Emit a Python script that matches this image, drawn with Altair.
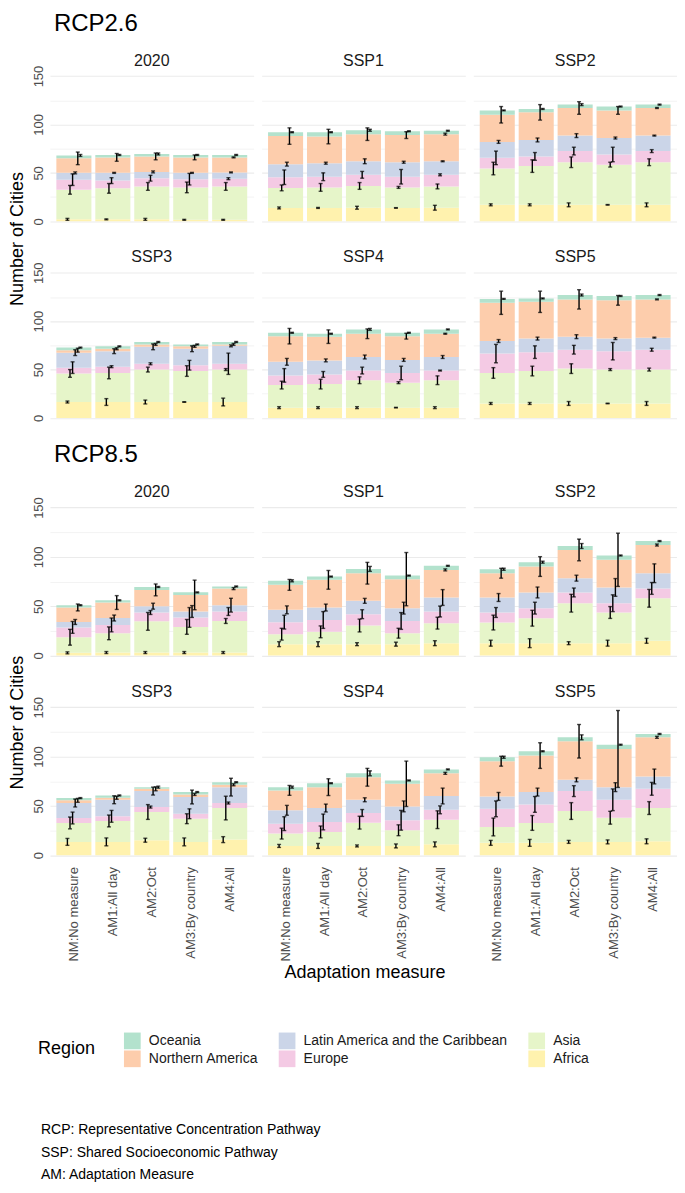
import altair as alt
import pandas as pd

FONT = "Liberation Sans"

REGIONS = ["Africa", "Asia", "Europe", "Latin America and the Caribbean",
           "Northern America", "Oceania"]
MEASURES = ["NM:No measure", "AM1:All day", "AM2:Oct", "AM3:By country", "AM4:All"]
PANELS = ["2020", "SSP1", "SSP2", "SSP3", "SSP4", "SSP5"]

LEG_ORDER = ["Oceania", "Northern America", "Latin America and the Caribbean",
             "Europe", "Asia", "Africa"]
LEG_COLORS = ["#B3E2CD", "#FDCDAC", "#CBD5E8", "#F4CAE4", "#E6F5C9", "#FFF2AE"]

# counts per measure (rows) and region (cols: Africa, Asia, Europe, LatAm, N. America, Oceania)
C26_2020 = [[2, 30.5, 10.5, 7, 15, 3], [2, 32, 8, 8, 16, 2.5], [2, 34, 8.5, 6.5, 16, 2.5],
            [1.5, 33.5, 8.5, 6.5, 16, 2.5], [1.5, 34.5, 8, 6.5, 15.5, 2.5]]
E26_2020 = [[1, 4.5, 6, 1, 6.5, 1], [0.5, 5, 3, 0.5, 4, 0.5], [1, 4, 3, 1, 3.5, 1],
            [0.5, 5.5, 6, 0.5, 2.5, 0.5], [0.5, 4, 1, 0.5, 0.5, 0.5]]
C26_SSP1 = [[13.8, 20.7, 11, 13.5, 29, 4], [13.8, 21.2, 11, 14, 27.5, 4.5], [14, 22.5, 11.5, 14, 28, 4],
            [13.8, 21.2, 11, 15, 28, 4], [14, 22, 12, 14, 28, 3.5]]
E26_SSP1 = [[1, 3, 7.5, 2, 8.5, 0.5], [0.5, 4, 4, 1, 7.5, 0.5], [1.5, 3.5, 3.5, 2.5, 6.5, 1],
            [0.3, 1, 7.5, 1, 3.5, 0.5], [2.5, 2.5, 1, 0.5, 1, 0.5]]
C26_SSP2 = [[17, 37.5, 11, 16.5, 28, 4.5], [17, 40, 10, 17, 28.5, 3.5], [17, 44, 11.5, 16, 28.5, 3.5],
            [17, 41.5, 10.5, 17, 28.5, 4], [17, 44, 11.5, 16, 28.5, 3.5]]
E26_SSP2 = [[1, 6.5, 7, 1.5, 8.5, 0.5], [1, 6.5, 4, 2, 8, 0.5], [2, 5.5, 4, 2, 6.5, 1],
            [0.3, 2.5, 7.5, 1, 4, 0.5], [2, 3.5, 1.5, 0.5, 0.5, 0.5]]
C26_SSP3 = [[16.5, 29.5, 6, 15.5, 2.5, 2.7], [16.5, 30, 6.5, 16, 2.5, 2.5], [16.5, 33.5, 6, 17.5, 2.5, 2.5],
            [16.5, 32, 6, 17, 2.5, 2], [16.5, 33.5, 6, 18.5, 1.5, 2.5]]
E26_SSP3 = [[1, 4, 6, 3, 2, 0.5], [3.5, 6, 1, 2.5, 1, 0.5], [2, 2.5, 1, 3, 1, 0.5],
            [0.3, 5.5, 5, 3, 1, 0.5], [4, 1, 11, 1, 1, 0.5]]
C26_SSP4 = [[10.7, 23.3, 10, 14, 26.5, 3.5], [10.7, 24.3, 10, 14.5, 24.5, 3], [10.7, 28.3, 10, 14, 24, 4.5],
            [10.7, 25.8, 10, 13.5, 24.5, 3.5], [10.7, 28.3, 10, 14, 24, 4.5]]
E26_SSP4 = [[1, 4, 7, 3.5, 8, 0.5], [1, 5, 3, 1.5, 7, 0.5], [1, 3.5, 3.5, 2, 5, 1],
            [0.3, 1, 7, 1.5, 3, 0.5], [1, 4.5, 0.5, 1.5, 0.5, 0.5]]
C26_SSP5 = [[15, 31.5, 20, 13, 39.5, 4], [15, 33.5, 19.5, 14, 38, 3.5], [15, 36, 19.5, 13.5, 38.5, 4.5],
            [15, 35, 19, 13, 39.5, 4.5], [15, 35, 20.5, 12.5, 39.5, 4.5]]
E26_SSP5 = [[1, 5.5, 9.5, 1.5, 12, 0.5], [1, 5, 6.5, 1.5, 11, 0.5], [2, 5, 4.5, 2, 10, 1],
            [0.3, 1, 9, 1, 5, 0.5], [2, 1.5, 1.5, 0.5, 0.5, 0.5]]

C85_2020 = [[2.7, 15.8, 10, 5.5, 14.7, 2.3], [3, 19.5, 8.5, 7, 15.7, 2.3], [3, 31.6, 9, 6.4, 16.5, 3],
            [3, 26, 9.6, 6, 16.8, 2.6], [3, 32, 9.6, 6.4, 16.8, 2.2]]
E85_2020 = [[1, 8, 6, 2.5, 3.5, 0.5], [1, 6.5, 7, 3, 7, 0.5], [1, 9, 2, 3, 6, 0.5],
            [1, 7.5, 10, 6, 15, 0.5], [1, 2.5, 4, 7, 1, 0.5]]
C85_SSP1 = [[11.5, 10.1, 12.2, 12.5, 25.3, 4.1], [11.5, 12.5, 12, 12.6, 28.1, 3.3],
            [11.5, 18.9, 11.5, 13.5, 28, 4.4], [11.5, 11.1, 12.4, 13, 29.4, 3.6],
            [12.5, 20.3, 11.8, 14.2, 28, 4.1]]
E85_SSP1 = [[2.5, 6, 7, 4, 5.5, 1], [2.5, 6, 8.5, 3.5, 9.5, 0.5], [1.5, 6.5, 4.5, 2.5, 11, 2.5],
            [2, 5, 8.5, 6, 27, 0.5], [2.5, 6, 5.5, 8, 1, 0.5]]
C85_SSP2 = [[12.5, 20.9, 10.2, 15.2, 24.6, 4.1], [12.5, 25.3, 10.2, 15.9, 26.3, 4.4],
            [12.5, 40.5, 10.9, 14.5, 28.6, 4], [12.5, 31.1, 9.4, 16, 28, 4.4],
            [14.9, 43.1, 10, 15.4, 28.6, 4]]
E85_SSP2 = [[3, 7.5, 5, 4, 5, 1], [4.5, 8, 6, 5.5, 10, 1], [1.5, 9, 4.5, 3, 11, 2.5],
            [3, 6, 8.5, 9, 27, 0.5], [2.5, 9, 6, 9.5, 1, 0.5]]
C85_SSP3 = [[13.5, 19.2, 5, 15.2, 2.7, 2.3], [13.5, 21.2, 4.7, 16.8, 2, 2.4],
            [15.2, 28.6, 5, 16.2, 2.3, 1.7], [13.5, 23.5, 5, 17, 2.6, 2.4],
            [15.8, 32, 5.1, 16.1, 2.4, 2.6]]
E85_SSP3 = [[3.5, 6, 6, 4, 2, 0.5], [4, 6, 6, 4, 1.5, 0.5], [2, 7.5, 1, 4, 2, 1],
            [4, 5, 5, 7, 1, 0.5], [3, 12, 1, 9, 1, 0.5]]
C85_SSP4 = [[9.4, 12.5, 10.1, 13.5, 20.2, 3.3], [9.4, 14.2, 10.1, 14.1, 21.2, 4],
            [9.4, 23.6, 9.8, 13.4, 22.8, 4], [9.4, 15.9, 10.1, 14.1, 22.9, 3.4],
            [11, 25, 10, 14, 23, 4]]
E85_SSP4 = [[1.5, 5.5, 7, 5, 5, 1], [2.5, 6, 8, 4, 8.5, 0.5], [1, 6.5, 3.5, 2, 9, 2.5],
            [2, 5.5, 10, 5.5, 23, 0.5], [2.5, 9, 4, 8, 1, 0.5]]
C85_SSP5 = [[12.5, 16.1, 18.4, 12.6, 35.7, 4], [12.5, 20.2, 18.8, 12.5, 37, 4.4],
            [13.5, 31.3, 20.2, 11.4, 39.1, 4], [13.5, 24.5, 18.2, 12.8, 38.7, 4.3],
            [14.1, 33.7, 19.5, 12.5, 39.7, 3.4]]
E85_SSP5 = [[2.5, 9, 8, 4, 5, 1], [3.5, 7.5, 8, 4, 13, 0.5], [1.5, 8.5, 5.5, 2, 17, 2.5],
            [2, 6.5, 11, 4.5, 39, 0.5], [2.5, 6.5, 6.5, 7.5, 1, 0.5]]

CAPTION = ["RCP: Representative Concentration Pathway",
           "SSP: Shared Socioeconomic Pathway",
           "AM: Adaptation Measure"]

RCP26 = {"2020": (C26_2020, E26_2020), "SSP1": (C26_SSP1, E26_SSP1), "SSP2": (C26_SSP2, E26_SSP2),
         "SSP3": (C26_SSP3, E26_SSP3), "SSP4": (C26_SSP4, E26_SSP4), "SSP5": (C26_SSP5, E26_SSP5)}
RCP85 = {"2020": (C85_2020, E85_2020), "SSP1": (C85_SSP1, E85_SSP1), "SSP2": (C85_SSP2, E85_SSP2),
         "SSP3": (C85_SSP3, E85_SSP3), "SSP4": (C85_SSP4, E85_SSP4), "SSP5": (C85_SSP5, E85_SSP5)}


def make_df(block):
    rows = []
    for p in PANELS:
        cnt, err = block[p]
        for mi, m in enumerate(MEASURES):
            cum = 0.0
            for ri, r in enumerate(REGIONS):
                c = cnt[mi][ri]
                cum += c
                e = err[mi][ri]
                rows.append(dict(panel=p, measure=m, region=r, order=ri, count=c,
                                 lo=cum - e, hi=cum + e))
    return pd.DataFrame(rows)


W = 204
DODGE = {"expr": "(datum.order - 2.5) * 2.6"}


def facet_block(df, show_x, H):
    if show_x:
        xaxis = alt.Axis(title=None, labelAngle=270, labelFontSize=13, labelColor="#4d4d4d",
                         ticks=False, domain=False, gridColor="#ebebeb", gridWidth=1.1,
                         labelPadding=4, bandPosition=0.5)
    else:
        xaxis = alt.Axis(title=None, labels=False, ticks=False, domain=False,
                         gridColor="#ebebeb", gridWidth=1.1, bandPosition=0.5)
    X = alt.X("measure:N", sort=MEASURES,
              scale=alt.Scale(paddingInner=0.1, paddingOuter=0.165), axis=xaxis)
    yaxis = alt.Axis(title=None, values=[0, 25, 50, 75, 100, 125, 150],
                     labelExpr="datum.value % 50 == 0 ? datum.label : ''",
                     ticks=False, domain=False, labelAngle=270, labelFontSize=13,
                     labelColor="#4d4d4d", labelPadding=4, gridColor="#ebebeb",
                     gridWidth={"condition": {"test": "datum.value % 50 == 0", "value": 1.1},
                                "value": 0.6})
    ysc = alt.Scale(domain=[-7.5, 157.5], nice=False, zero=False)

    base = alt.Chart(df)
    bars = base.mark_bar(strokeWidth=0).encode(
        x=X,
        y=alt.Y("count:Q", stack="zero", scale=ysc, axis=yaxis),
        color=alt.Color("region:N",
                        scale=alt.Scale(domain=LEG_ORDER, range=LEG_COLORS),
                        legend=alt.Legend(title="Region", orient="none", legendX=-12, legendY=965,
                                          columns=3, titleOrient="left", symbolType="square",
                                          symbolSize=280, symbolStrokeWidth=0, labelFontSize=14,
                                          titleFontSize=18, titleFontWeight="normal",
                                          titleColor="black", labelColor="#1a1a1a",
                                          columnPadding=20, rowPadding=1, titlePadding=28,
                                          labelOffset=8, labelLimit=0)),
        order=alt.Order("order:Q", sort="ascending"),
    )
    rules = base.mark_rule(color="black", strokeWidth=1.4, xOffset=DODGE).encode(
        x=X, y=alt.Y("lo:Q", scale=ysc, axis=yaxis), y2="hi:Q")
    cap_lo = base.mark_tick(color="black", size=4, thickness=1.4, xOffset=DODGE).encode(
        x=X, y=alt.Y("lo:Q", scale=ysc, axis=yaxis))
    cap_hi = base.mark_tick(color="black", size=4, thickness=1.4, xOffset=DODGE).encode(
        x=X, y=alt.Y("hi:Q", scale=ysc, axis=yaxis))

    layer = alt.layer(bars, rules, cap_lo, cap_hi).properties(width=W, height=H)
    fac = layer.facet(
        facet=alt.Facet("panel:N", sort=PANELS, title=None,
                        header=alt.Header(labelFontSize=16, labelColor="#1a1a1a",
                                          labelPadding=0, labelFont=FONT)),
        columns=3, spacing={"row": 21, "column": 8},
    ).properties(title=alt.TitleParams("Number of Cities", orient="left", anchor="middle",
                                       fontSize=18, fontWeight="normal", color="black",
                                       font=FONT, offset=6))
    return fac


df26 = make_df(RCP26)
df85 = make_df(RCP85)

block1 = alt.vconcat(
    facet_block(df26, False, 160),
    title=alt.TitleParams("RCP2.6", anchor="start", fontSize=24, fontWeight="normal",
                          color="black", font=FONT, dx=45, offset=17))
inner2 = alt.vconcat(
    facet_block(df85, True, 163),
    title=alt.TitleParams("Adaptation measure", orient="bottom", anchor="middle", fontSize=18,
                          fontWeight="normal", color="black", font=FONT, dx=22, offset=3))
block2 = alt.vconcat(
    inner2,
    title=alt.TitleParams("RCP8.5", anchor="start", fontSize=24, fontWeight="normal",
                          color="black", font=FONT, dx=45, offset=17))

chart = alt.vconcat(
    block1, block2, spacing=18,
    title=alt.TitleParams(CAPTION, orient="bottom", anchor="start", fontSize=14,
                          fontWeight="normal", color="black", font=FONT, dx=32, offset=56,
                          lineHeight=22.5),
).properties(padding={"top": 3, "left": 0, "right": 0, "bottom": 0}).configure_view(
    stroke=None).configure_axis(labelFont=FONT, titleFont=FONT).configure_legend(
    labelFont=FONT, titleFont=FONT)

chart.save("out.html", embed_options={"renderer": "svg", "actions": False})
